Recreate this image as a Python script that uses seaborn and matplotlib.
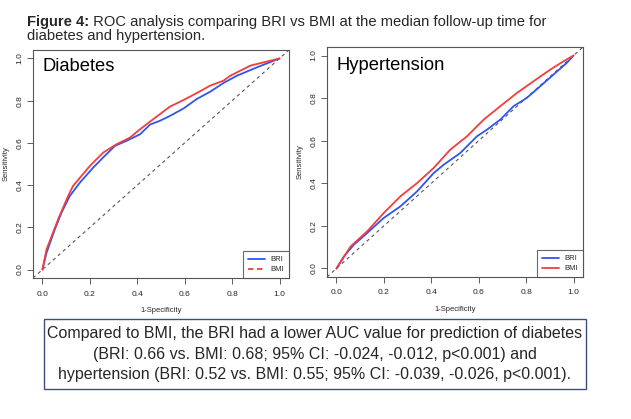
import numpy as np
import pandas as pd
import matplotlib
matplotlib.use("Agg")
import matplotlib.pyplot as plt
from matplotlib.lines import Line2D
from matplotlib.patches import Rectangle
import seaborn as sns

# ROC points (1-specificity, sensitivity)
dia_fpr_bri = [0, 0.017, 0.052, 0.080, 0.115, 0.158, 0.214, 0.256, 0.306, 0.355,
               0.412, 0.454, 0.496, 0.538, 0.595, 0.651, 0.707, 0.764, 0.820, 0.905, 1.0]
dia_tpr_bri = [0, 0.079, 0.190, 0.269, 0.348, 0.412, 0.483, 0.531, 0.586, 0.610,
               0.641, 0.687, 0.705, 0.728, 0.763, 0.808, 0.842, 0.884, 0.918, 0.958, 1.0]
dia_fpr_bmi = [0, 0.017, 0.066, 0.108, 0.129, 0.200, 0.256, 0.313, 0.369, 0.412,
               0.468, 0.538, 0.595, 0.651, 0.707, 0.764, 0.792, 0.877, 1.0]
dia_tpr_bmi = [0, 0.095, 0.238, 0.348, 0.396, 0.491, 0.554, 0.594, 0.625, 0.665,
               0.713, 0.772, 0.803, 0.836, 0.871, 0.895, 0.918, 0.966, 1.0]

hyp_fpr_bri = [0, 0.031, 0.073, 0.129, 0.199, 0.270, 0.340, 0.410, 0.452, 0.522,
               0.593, 0.635, 0.691, 0.747, 0.803, 0.860, 0.916, 0.972, 1.0]
hyp_tpr_bri = [0, 0.056, 0.111, 0.166, 0.237, 0.292, 0.362, 0.448, 0.487, 0.542,
               0.621, 0.652, 0.699, 0.762, 0.801, 0.856, 0.911, 0.966, 1.0]
hyp_fpr_bmi = [0, 0.059, 0.129, 0.199, 0.270, 0.340, 0.410, 0.480, 0.551, 0.621,
               0.691, 0.761, 0.831, 0.902, 0.958, 1.0]
hyp_tpr_bmi = [0, 0.103, 0.174, 0.260, 0.339, 0.401, 0.472, 0.558, 0.621, 0.699,
               0.762, 0.824, 0.879, 0.934, 0.973, 1.0]

ticks = [0.0, 0.2, 0.4, 0.6, 0.8, 1.0]
tick_labels = ["0.0", "0.2", "0.4", "0.6", "0.8", "1.0"]

title_bold = "Figure 4:"
title_rest = " ROC analysis comparing BRI vs BMI at the median follow-up time for"
title_line2 = "diabetes and hypertension."
summary = ("Compared to BMI, the BRI had a lower AUC value for prediction of diabetes\n"
           "(BRI: 0.66 vs. BMI: 0.68; 95% CI: -0.024, -0.012, p<0.001) and\n"
           "hypertension (BRI: 0.52 vs. BMI: 0.55; 95% CI: -0.039, -0.026, p<0.001).")

sns.set_style("white")
plt.rcParams["font.family"] = ["Liberation Sans", "DejaVu Sans"]

blue = "#2f55f0"
red = "#f43c3c"

W, H = 631, 419
fig = plt.figure(figsize=(W / 100, H / 100), dpi=100)


def make_panel(rect, name, name_y, fpr_bri, tpr_bri, fpr_bmi, tpr_bmi, bmi_ls):
    ax = fig.add_axes(rect)
    df_bri = pd.DataFrame({"fpr": fpr_bri, "tpr": tpr_bri})
    df_bmi = pd.DataFrame({"fpr": fpr_bmi, "tpr": tpr_bmi})
    ax.axline((0, 0), (1, 1), color="#555555", lw=0.8, ls=(0, (3, 3)))
    sns.lineplot(data=df_bri, x="fpr", y="tpr", ax=ax, color=blue, lw=1.3,
                 sort=False, estimator=None)
    sns.lineplot(data=df_bmi, x="fpr", y="tpr", ax=ax, color=red, lw=1.3,
                 sort=False, estimator=None)
    ax.set_xlim(-0.04, 1.04)
    ax.set_ylim(-0.04, 1.04)
    ax.set_xticks(ticks)
    ax.set_xticklabels(tick_labels)
    ax.set_yticks(ticks)
    ax.set_yticklabels(tick_labels, rotation=90, va="center")
    ax.tick_params(axis="both", labelsize=6, length=4, width=0.6,
                   color="#444444", direction="out", bottom=True, left=True)
    ax.tick_params(axis="x", pad=5)
    ax.tick_params(axis="y", pad=3)
    for s in ax.spines.values():
        s.set_color("#555555")
        s.set_linewidth(0.8)
    ax.set_xlabel("1-Specificity", fontsize=5.5, labelpad=7)
    ax.set_ylabel("Sensitivity", fontsize=5.5, labelpad=5)
    ax.text(0.0, name_y, name, fontsize=13.2, ha="left", va="center",
            transform=ax.transData, color="black")
    handles = [Line2D([], [], color=blue, lw=1.3),
               Line2D([], [], color=red, lw=1.3, ls=bmi_ls)]
    leg = ax.legend(handles, ["BRI", "BMI"], loc="lower right", fontsize=5.5,
                    frameon=True, fancybox=False, borderaxespad=0,
                    handlelength=2.2, labelspacing=0.35, borderpad=0.6)
    leg.get_frame().set_edgecolor("#444444")
    leg.get_frame().set_linewidth(0.8)
    return ax


make_panel([33 / W, 1 - 278 / H, 256 / W, 228 / H], "Diabetes", 0.96,
           dia_fpr_bri, dia_tpr_bri, dia_fpr_bmi, dia_tpr_bmi, (0, (3, 2)))
make_panel([327 / W, 1 - 277 / H, 256 / W, 230 / H], "Hypertension", 0.955,
           hyp_fpr_bri, hyp_tpr_bri, hyp_fpr_bmi, hyp_tpr_bmi, "-")

# title with bold prefix
renderer = fig.canvas.get_renderer()
t1 = fig.text(27 / W, 1 - 26 / H, title_bold, fontsize=10.6, fontweight="bold",
              ha="left", va="baseline")
bb = t1.get_window_extent(renderer)
fig.text(bb.x1 / W, 1 - 26 / H, title_rest, fontsize=10.6, ha="left", va="baseline")
fig.text(27 / W, 1 - 40 / H, title_line2, fontsize=10.6, ha="left", va="baseline")

# summary box
fig.patches.append(Rectangle((44 / W, 1 - 389 / H), (586 - 44) / W, (389 - 319) / H,
                             transform=fig.transFigure, fill=False,
                             edgecolor="#3d4f7a", lw=1.0))
fig.text(315 / W, 1 - 354 / H, summary, fontsize=11.5, ha="center", va="center",
         linespacing=1.42)

fig.savefig("out.png", dpi=100)
